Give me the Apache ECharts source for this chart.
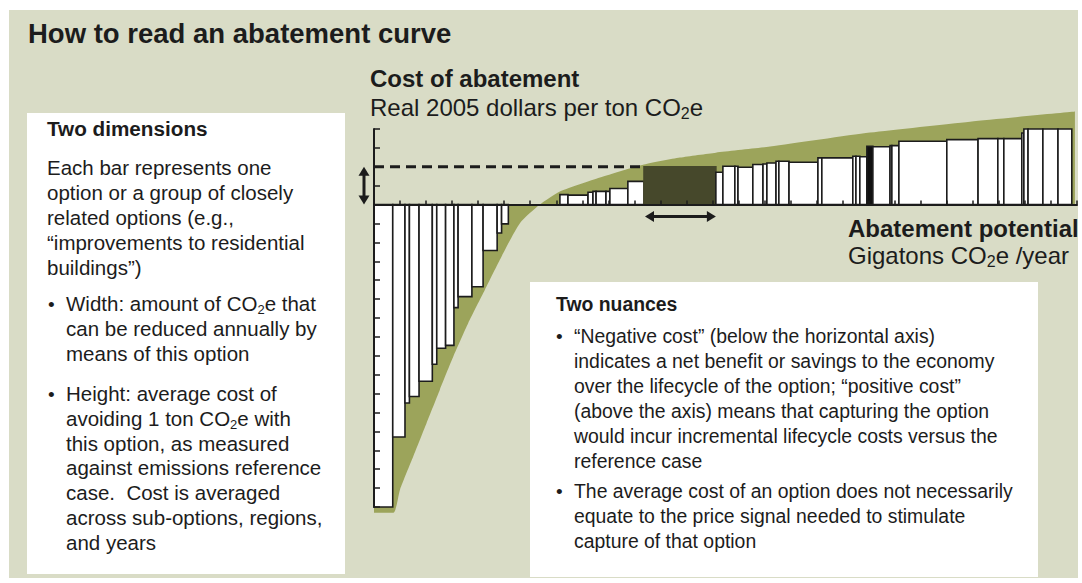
<!DOCTYPE html>
<html lang="en">
<head>
<meta charset="utf-8">
<title>How to read an abatement curve</title>
<script src="https://cdn.jsdelivr.net/npm/echarts@6/dist/echarts.min.js"></script>
<style>
    body { margin: 0; background: #fff; }
    #panel { position: absolute; left: 9px; top: 10px; width: 1069px; height: 568px; background: #d9dcc6; }
    #main { position: absolute; left: 0; top: 0; width: 1082px; height: 583px; }
</style>
</head>
<body>
<div id="panel"></div>
<div id="main"></div>
<script>
    // 每个减排选项：起点（累计减排潜力）、宽度（减排量）、成本
    var optionStart = [0, 0.72, 1.19, 1.36, 1.73, 2.24, 2.41, 2.75, 3.07, 3.23, 3.76, 4.19, 4.73, 4.90,
        7.14, 7.45, 8.22, 8.41, 8.53, 8.91, 9.06, 9.75, 10.37, 13.13, 13.40, 13.86, 13.98, 14.55, 14.94,
        15.09, 15.44, 15.55, 15.94, 17.05, 17.20, 18.39, 18.51, 18.66, 18.93, 19.16, 19.82, 19.89, 20.16,
        22.00, 23.20, 23.96, 24.19, 24.88, 24.96, 25.12, 25.69, 26.27];
    var optionWidth = [0.72, 0.47, 0.17, 0.37, 0.51, 0.17, 0.34, 0.32, 0.16, 0.53, 0.43, 0.54, 0.17, 0.26,
        0.31, 0.77, 0.19, 0.12, 0.38, 0.15, 0.69, 0.62, 2.76, 0.27, 0.46, 0.12, 0.57, 0.39, 0.15,
        0.35, 0.11, 0.39, 1.11, 0.15, 1.19, 0.12, 0.15, 0.27, 0.23, 0.66, 0.07, 0.27, 1.84,
        1.20, 0.76, 0.23, 0.69, 0.08, 0.16, 0.57, 0.58, 0.53];
    var optionCost = [-16.0, -12.3, -10.5, -10.15, -9.35, -8.45, -7.6, -7.45, -5.45, -4.87, -4.35, -2.43, -1.5, -1.02,
        0.53, 0.5, 0.65, 0.7, 0.7, 0.7, 0.85, 1.23, 2.0, 1.71, 2.03, 2.03, 1.98, 2.12, 2.15,
        2.2, 2.29, 2.29, 2.24, 2.47, 2.47, 2.56, 2.56, 2.53, 3.08, 3.06, 3.12, 3.12, 3.35,
        3.44, 3.49, 3.49, 3.49, 3.79, 4.0, 4.0, 4.0, 4.0];
    var highlightOption = 22;   // 示例选项（深色）
    var denseOption = 38;       // 很窄的一组选项，看起来是黑色

    // 绿色包络曲线
    var curveX = [0, 0.74, 1.0, 1.51, 2.02, 2.53, 3.05, 3.62, 4.26, 4.9, 5.61, 6.37, 7.14, 8.68, 10.37, 11.75, 13.13, 15.21, 19.05, 22.89, 26.92];
    var curveY = [-16.31, -16.31, -15.08, -13.32, -11.55, -9.79, -8.03, -6.26, -4.5, -2.74, -0.97, 0, 0.69, 1.43, 2.12, 2.49, 2.75, 3.07, 3.81, 4.39, 4.92];

    var potentialMax = 27;
    var costMin = -16;
    var costMax = 4;

    var FONT = '"Liberation Sans", Arial, sans-serif';
    var INK = '#1c1c1c';

    var barData = optionStart.map(function (s, i) {
        return [s, optionWidth[i], optionCost[i], i];
    });
    var curveData = curveX.map(function (x, i) {
        return [x, curveY[i]];
    });

    function renderBar(params, api) {
        var i = api.value(3);
        var a = api.coord([api.value(0), api.value(2)]);
        var b = api.coord([api.value(0) + api.value(1), 0]);
        var fill = '#fff';
        var stroke = INK;
        if (i === highlightOption) { fill = '#46482b'; stroke = '#46482b'; }
        else if (i === denseOption) { fill = '#111'; }
        return {
            type: 'rect',
            shape: {
                x: a[0], y: Math.min(a[1], b[1]),
                width: b[0] - a[0], height: Math.abs(b[1] - a[1])
            },
            style: { fill: fill, stroke: stroke, lineWidth: 1.6 }
        };
    }

    var myChart = echarts.init(document.getElementById('main'), null, { renderer: 'svg' });

    var option = {
        animation: false,
        grid: { left: 374, right: 5, top: 129, bottom: 76 },
        xAxis: {
            type: 'value', min: 0, max: potentialMax, interval: 1, z: 5,
            axisLine: { onZero: true, lineStyle: { color: INK, width: 2 } },
            axisTick: { inside: true, length: 4, lineStyle: { color: INK, width: 1.5 } },
            axisLabel: { show: false },
            splitLine: { show: false }
        },
        yAxis: {
            type: 'value', min: costMin, max: costMax, interval: 1, z: 5,
            axisLine: { show: true, lineStyle: { color: INK, width: 2 } },
            axisTick: { show: true, inside: true, length: 6, lineStyle: { color: INK, width: 1.5 } },
            axisLabel: { show: false },
            splitLine: { show: false }
        },
        series: [{
            type: 'line',
            data: curveData,
            smooth: 0.2,
            symbol: 'none',
            clip: false,
            silent: true,
            z: 1,
            lineStyle: { width: 0, color: '#9ca45b' },
            areaStyle: { color: '#9ca45b', opacity: 1 }
        }, {
            type: 'custom',
            data: barData,
            encode: { x: 0, y: 2 },
            renderItem: renderBar,
            clip: false,
            z: 2
        }, {
            type: 'line',
            data: [[0, optionCost[highlightOption]], [optionStart[highlightOption], optionCost[highlightOption]]],
            symbol: 'none',
            z: 3,
            lineStyle: { color: INK, width: 3, type: [10, 6] }
        }]
    };
    myChart.setOption(option);

    // 文字：base 为第一行基线
    function para(x, base, lines, size, lh, bold) {
        return {
            type: 'text', x: x, y: base - lh / 2 - size * 0.35, z: 11,
            style: {
                text: lines.join('\n'),
                fontFamily: FONT, fontSize: size, fontWeight: bold ? 'bold' : 'normal',
                lineHeight: lh, fill: INK, verticalAlign: 'top',
                rich: {
                    sub: { fontFamily: FONT, fontSize: Math.round(size * 0.65), lineHeight: Math.round(size * 0.7), verticalAlign: 'bottom', fill: INK, fontWeight: bold ? 'bold' : 'normal' }
                }
            }
        };
    }
    function bullet(x, base) {
        return para(x, base, ['\u2022'], 19, 25, false);
    }

    // 箭头
    function arrow(x1, y1, x2, y2) {
        var dx = x2 - x1, dy = y2 - y1;
        var len = Math.sqrt(dx * dx + dy * dy);
        var ux = dx / len, uy = dy / len, h = 9, w = 5.5;
        function head(px, py, sx, sy) {
            return {
                type: 'polygon', z: 6,
                shape: { points: [[px, py], [px - sx * h - sy * w, py - sy * h + sx * w], [px - sx * h + sy * w, py - sy * h - sx * w]] },
                style: { fill: INK }
            };
        }
        return [{
            type: 'line', z: 6,
            shape: { x1: x1 + ux * 6, y1: y1 + uy * 6, x2: x2 - ux * 6, y2: y2 - uy * 6 },
            style: { stroke: INK, lineWidth: 3 }
        }, head(x2, y2, ux, uy), head(x1, y1, -ux, -uy)];
    }

    var hiTop = myChart.convertToPixel({ gridIndex: 0 }, [optionStart[highlightOption], optionCost[highlightOption]]);
    var hiEnd = myChart.convertToPixel({ gridIndex: 0 }, [optionStart[highlightOption] + optionWidth[highlightOption], 0]);
    var origin = myChart.convertToPixel({ gridIndex: 0 }, [0, 0]);

    var elements = [
        { type: 'rect', z: 10, shape: { x: 27, y: 113, width: 318, height: 461 }, style: { fill: '#fff' } },
        { type: 'rect', z: 10, shape: { x: 530, y: 282, width: 508, height: 295 }, style: { fill: '#fff' } },

        para(28, 43, ['How to read an abatement curve'], 27.5, 30, true),
        para(370, 87, ['Cost of abatement'], 24, 28, true),
        para(370, 116, ['Real 2005 dollars per ton CO{sub|2}e'], 24, 28, false),
        para(848, 237, ['Abatement potential'], 24, 28, true),
        para(848, 264, ['Gigatons CO{sub|2}e /year'], 24, 28, false),

        para(47, 136, ['Two dimensions'], 20.7, 25, true),
        para(47, 175, ['Each bar represents one', 'option or a group of closely', 'related options (e.g.,',
            '\u201Cimprovements to residential', 'buildings\u201D)'], 20.5, 25, false),
        bullet(48, 311),
        para(66, 311, ['Width: amount of CO{sub|2}e that', 'can be reduced annually by', 'means of this option'], 20.5, 25, false),
        bullet(48, 401),
        para(66, 401, ['Height: average cost of', 'avoiding 1 ton CO{sub|2}e with', 'this option, as measured',
            'against emissions reference', 'case.  Cost is averaged', 'across sub-options, regions,', 'and years'], 20.5, 24.7, false),

        para(556, 311, ['Two nuances'], 19.4, 25, true),
        bullet(556, 343),
        para(574, 343, ['\u201CNegative cost\u201D (below the horizontal axis)', 'indicates a net benefit or savings to the economy',
            'over the lifecycle of the option; \u201Cpositive cost\u201D', '(above the axis) means that capturing the option',
            'would incur incremental lifecycle costs versus the', 'reference case'], 19.4, 25, false),
        bullet(556, 498),
        para(574, 498, ['The average cost of an option does not necessarily', 'equate to the price signal needed to stimulate',
            'capture of that option'], 19.4, 25, false)
    ];
    elements = elements
        .concat(arrow(origin[0] - 10, hiTop[1], origin[0] - 10, origin[1]))
        .concat(arrow(hiTop[0] + 1, origin[1] + 12, hiEnd[0], origin[1] + 12));

    myChart.setOption({ graphic: { elements: elements } });
</script>
</body>
</html>
